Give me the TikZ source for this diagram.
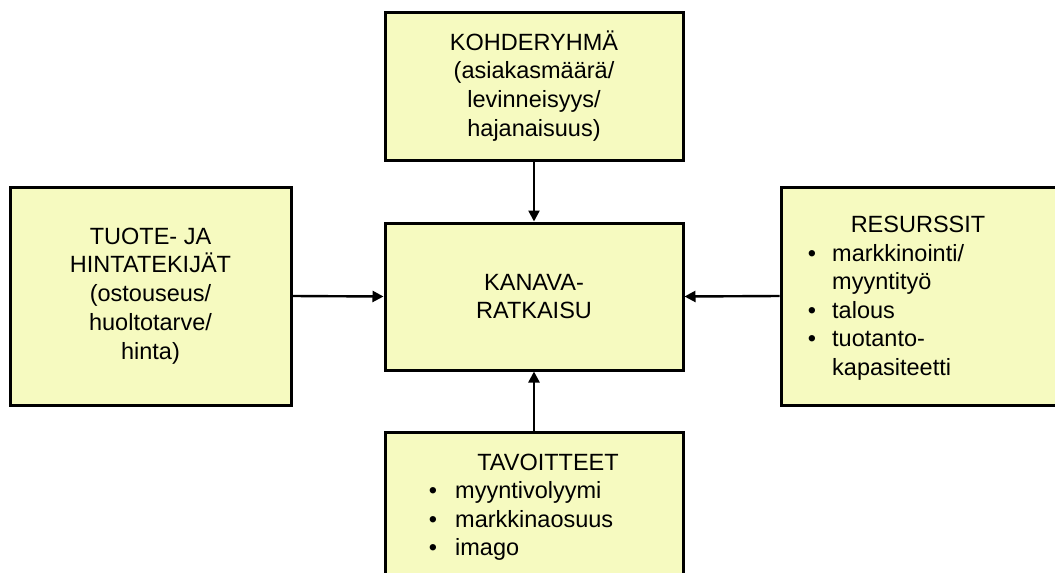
\documentclass[tikz,border=0pt]{standalone}
\usepackage{fontspec}
\setmainfont{Liberation Sans}
\usetikzlibrary{arrows.meta}
\definecolor{boxfill}{RGB}{246,250,192}
\tikzset{
  box/.style={draw=black, fill=boxfill, line width=3pt, inner sep=0pt,
    font=\fontsize{23.5}{28.8}\selectfont, align=center},
  txt/.style={font=\fontsize{23.5}{28.8}\selectfont, inner sep=0pt},
  item/.style={txt, anchor=base west},
  bul/.style={txt, anchor=base},
  link/.style={line width=2.4pt, -{Triangle[length=11pt,width=11pt]}}
}
\begin{document}
\begin{tikzpicture}[x=1pt,y=-1pt]
\useasboundingbox (0,0) rectangle (1055,573);
\clip (0,0) rectangle (1055,573);

% boxes
\node[box, minimum width=298, minimum height=148] (kohde) at (534,86)
  {KOHDERYHMÄ\\(asiakasmäärä/\\levinneisyys/\\hajanaisuus)};
\node[box, minimum width=298, minimum height=147] (kanava) at (534,296.5)
  {KANAVA-\\RATKAISU};
\node[box, minimum width=281, minimum height=218] (tuote) at (150.5,296)
  {TUOTE- JA\\HINTATEKIJÄT\\(ostouseus/\\huoltotarve/\\hinta)};
\node[box, minimum width=290, minimum height=218] (resurssit) at (926,296) {};
\node[box, minimum width=298, minimum height=160] (tavoitteet) at (534,512) {};

% resources list
\node[txt, anchor=base] (restitle) at (918,232) {RESURSSIT};
\node[bul] (rb1) at (812,261) {\textbullet};
\node[item] (ri1) at (832,261) {markkinointi/};
\node[item] (ri1b) at (832,289.5) {myyntityö};
\node[bul] (rb2) at (812,318) {\textbullet};
\node[item] (ri2) at (832,318) {talous};
\node[bul] (rb3) at (812,346.5) {\textbullet};
\node[item] (ri3) at (832,346.5) {tuotanto-};
\node[item] (ri3b) at (832,375) {kapasiteetti};

% goals list
\node[txt, anchor=base] (tavtitle) at (548,470) {TAVOITTEET};
\node[bul] (tb1) at (433,498) {\textbullet};
\node[item] (ti1) at (455,498) {myyntivolyymi};
\node[bul] (tb2) at (433,527) {\textbullet};
\node[item] (ti2) at (455,527) {markkinaosuus};
\node[bul] (tb3) at (433,555) {\textbullet};
\node[item] (ti3) at (455,555) {imago};

% connectors
\draw[link] (kohde.south) -- (kanava.north);
\draw[link] (tuote.east) -- (kanava.west);
\draw[link] (resurssit.west) -- (kanava.east);
\draw[link] (tavoitteet.north) -- (kanava.south);
\end{tikzpicture}
\end{document}
